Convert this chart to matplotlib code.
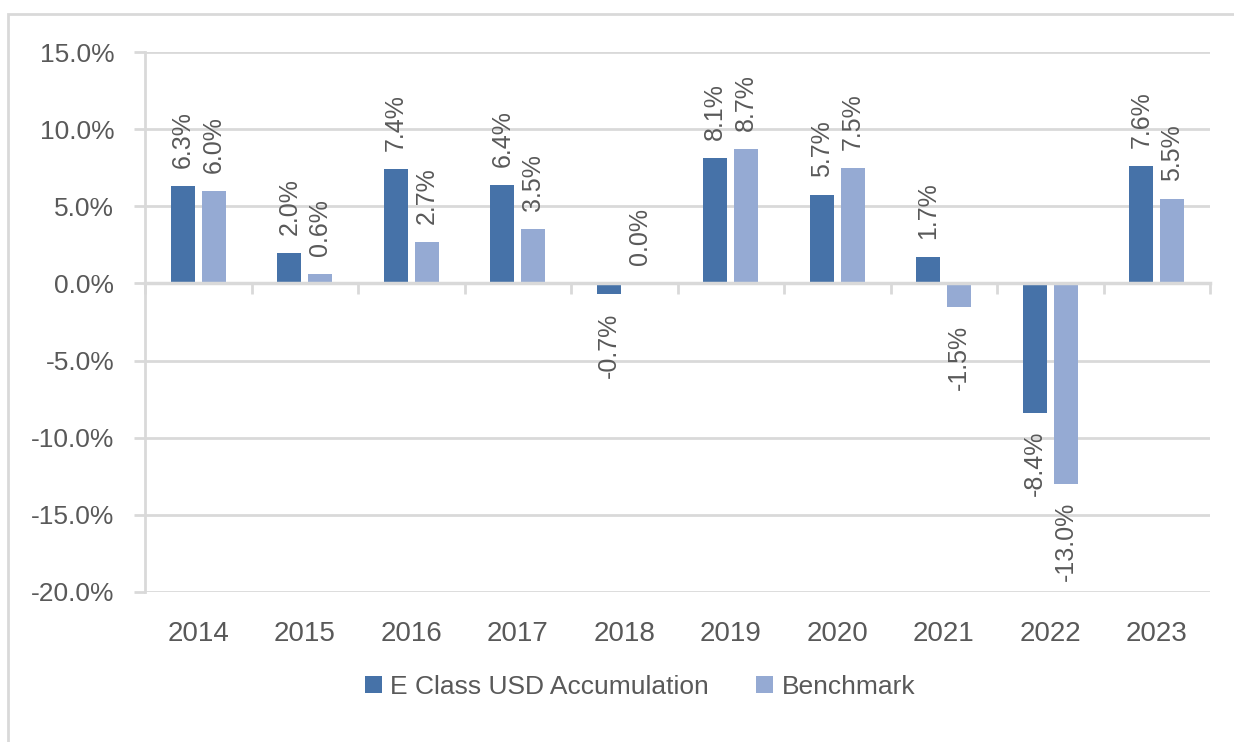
import matplotlib
matplotlib.use("Agg")
import matplotlib.pyplot as plt
import matplotlib.patches as patches
import numpy as np

# Annual returns (%)
years = ["2014", "2015", "2016", "2017", "2018", "2019", "2020", "2021", "2022", "2023"]
fund_returns = [6.3, 2.0, 7.4, 6.4, -0.7, 8.1, 5.7, 1.7, -8.4, 7.6]
bench_returns = [6.0, 0.6, 2.7, 3.5, 0.0, 8.7, 7.5, -1.5, -13.0, 5.5]
series_names = ["E Class USD Accumulation", "Benchmark"]
y_ticks = [-20, -15, -10, -5, 0, 5, 10, 15]

DARK = "#4672A8"
LIGHT = "#95AAD3"
GRID = "#D9D9D9"
TEXT = "#595959"

plt.rcParams["font.family"] = ["Liberation Sans", "DejaVu Sans"]

fig = plt.figure(figsize=(12.34, 7.42), dpi=100)
ax = fig.add_axes([0.1175, 0.2022, 0.8631, 0.7277])

# outer frame (partly cut off at right / bottom like the screenshot)
fig.patches.append(patches.Rectangle((8 / 1234, -0.1), 1.2, 1 - 14 / 742 + 0.1,
                                     transform=fig.transFigure, fill=False,
                                     edgecolor=GRID, linewidth=2))

x = np.arange(len(years))
w = 0.225
off = 0.145
b1 = ax.bar(x - off, fund_returns, w, color=DARK, label=series_names[0], zorder=2)
b2 = ax.bar(x + off, bench_returns, w, color=LIGHT, label=series_names[1], zorder=2)

for bars, vals in ((b1, fund_returns), (b2, bench_returns)):
    for bar, v in zip(bars, vals):
        cx = bar.get_x() + bar.get_width() / 2
        if v >= 0:
            ax.annotate(f"{v:.1f}%", (cx, v), xytext=(0, 13), textcoords="offset points",
                        rotation=90, ha="center", va="bottom", fontsize=18, color=TEXT)
        else:
            ax.annotate(f"{v:.1f}%", (cx, v), xytext=(0, -13), textcoords="offset points",
                        rotation=90, ha="center", va="top", fontsize=18, color=TEXT)

ax.set_xlim(-0.5, len(years) - 0.5)
ax.set_ylim(-20, 15)
ax.set_yticks(y_ticks)
ax.set_yticklabels([f"{t:.1f}%" for t in y_ticks], fontsize=19, color=TEXT)
ax.yaxis.grid(True, color=GRID, linewidth=2, zorder=0)
ax.tick_params(axis="y", length=8, width=2, color=GRID, pad=14)

# category axis sits at zero with boundary ticks
ax.spines["bottom"].set_position(("data", 0))
ax.spines["bottom"].set_color(GRID)
ax.spines["bottom"].set_linewidth(2.5)
ax.spines["bottom"].set_zorder(3)
ax.set_xticks(np.arange(len(years) + 1) - 0.5)
ax.set_xticklabels([])
ax.tick_params(axis="x", length=8, width=2, color=GRID)

ax.spines["left"].set_color(GRID)
ax.spines["left"].set_linewidth(2)
ax.spines["top"].set_visible(False)
ax.spines["right"].set_visible(False)

secax = ax.secondary_xaxis("bottom")
secax.set_xticks(x)
secax.set_xticklabels(years, fontsize=20, color=TEXT)
secax.tick_params(length=0, pad=21)
secax.spines["bottom"].set_visible(False)

ax.legend(loc="center left", bbox_to_anchor=((365 - 145) / 1065, -0.176), ncol=2,
          frameon=False, borderpad=0, borderaxespad=0, fontsize=19, labelcolor=TEXT,
          handlelength=0.65, handleheight=0.62, handletextpad=0.3, columnspacing=1.8)

fig.savefig("out.png", dpi=100)
